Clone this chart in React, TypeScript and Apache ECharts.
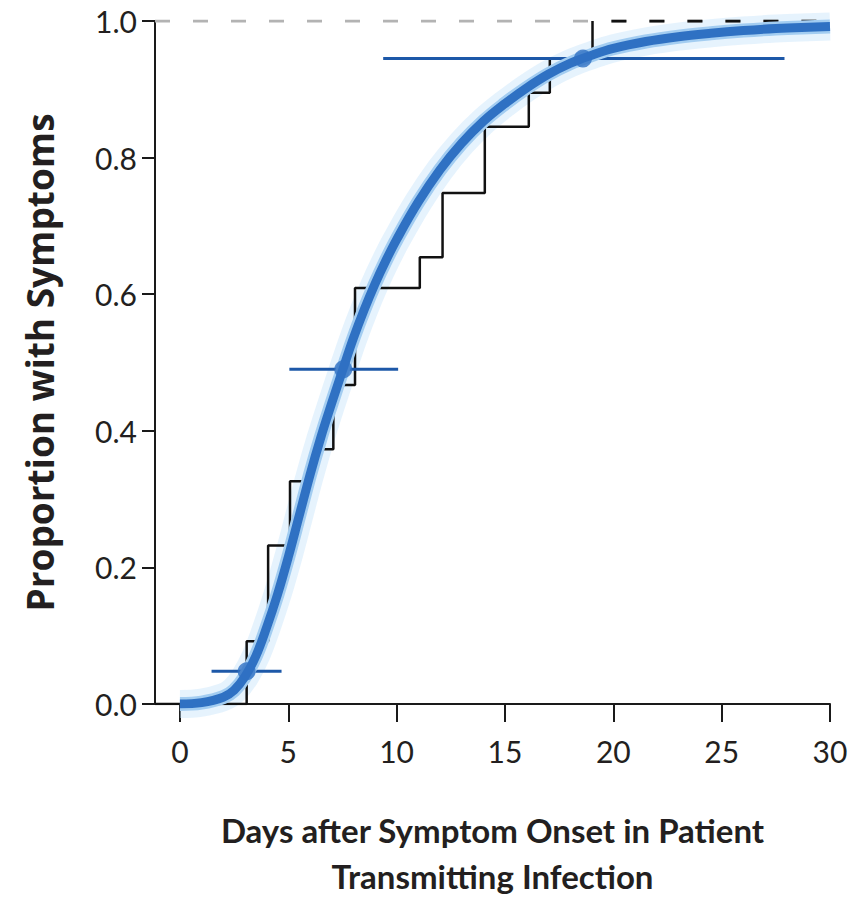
import React, { useEffect, useRef } from "react";
import * as echarts from "echarts";

// ---- Data ----
const xTicks = [0, 5, 10, 15, 20, 25, 30];
const yTicks = [0, 0.2, 0.4, 0.6, 0.8, 1.0];

// Empirical step function (day of jump, level after jump)
const stepDays = [-1.15, 3.08, 4.07, 5.08, 6.08, 7.08, 8.08, 11.07, 12.12, 14.07, 16.1, 17.07, 19.04];
const stepLevels = [0, 0.092, 0.232, 0.326, 0.373, 0.467, 0.609, 0.654, 0.748, 0.845, 0.895, 0.945, 1.0];

// Fitted smooth curve
const curveDays = [0, 1, 2, 2.5, 3, 3.5, 4, 4.5, 5, 5.5, 6, 6.5, 7, 7.5, 8, 8.5, 9, 9.5, 10, 11, 12, 13, 14, 15, 16, 17, 18, 19, 20, 21.5, 23, 24.5, 26, 27.5, 29, 30];
const curveValues = [0, 0.002, 0.01, 0.02, 0.04, 0.07, 0.112, 0.16, 0.215, 0.275, 0.335, 0.39, 0.44, 0.488, 0.535, 0.577, 0.615, 0.649, 0.68, 0.735, 0.782, 0.821, 0.853, 0.879, 0.902, 0.922, 0.938, 0.95, 0.96, 0.97, 0.977, 0.982, 0.986, 0.989, 0.991, 0.992];

// Percentile estimates with intervals (5th, 50th, 95th)
const pctLevels = [0.048, 0.49, 0.945];
const pctEstimates = [3.08, 7.54, 18.6];
const pctLower = [1.46, 5.05, 9.38];
const pctUpper = [4.69, 10.07, 27.9];

const xMin = -1.15;
const xMax = 30;
const completeFrom = 19.04;

export default function App() {
  const ref = useRef<HTMLDivElement>(null);

  useEffect(() => {
    if (!ref.current) return;
    const chart = echarts.init(ref.current, null, { renderer: "svg" });

    const curve = curveDays.map((d, i) => [d, curveValues[i]]);
    const steps = stepDays.map((d, i) => [d, stepLevels[i]]);

    const ciSeries = pctLevels.map((lvl, i) => ({
      type: "line",
      data: [
        [pctLower[i], lvl],
        [pctUpper[i], lvl],
      ],
      showSymbol: false,
      silent: true,
      lineStyle: { color: "#1d58a8", width: 3 },
      z: 4,
    }));

    const curveLine = (color: string, width: number, z: number) => ({
      type: "line",
      data: curve,
      smooth: 0.4,
      showSymbol: false,
      silent: true,
      lineStyle: { color, width, cap: "butt", join: "round" },
      z,
    });

    const option: any = {
      animation: false,
      backgroundColor: "#ffffff",
      grid: { left: 155, right: 34, top: 21, bottom: 200 },
      xAxis: {
        type: "value",
        min: xMin,
        max: xMax,
        axisLine: { show: true, onZero: false, lineStyle: { color: "#1a1a1a", width: 2 } },
        axisTick: { show: true, length: 18, customValues: xTicks, lineStyle: { color: "#1a1a1a", width: 2 } },
        axisLabel: {
          customValues: xTicks,
          fontFamily: "Lato",
          fontSize: 30,
          color: "#231f20",
          margin: 32,
        },
        splitLine: { show: false },
        name: "Days after Symptom Onset in Patient\nTransmitting Infection",
        nameLocation: "middle",
        nameGap: 103,
        nameTextStyle: {
          fontFamily: "Lato",
          fontWeight: "bold",
          fontSize: 33,
          lineHeight: 46,
          color: "#231f20",
        },
      },
      yAxis: {
        type: "value",
        min: 0,
        max: 1,
        interval: 0.2,
        axisLine: { show: true, onZero: false, lineStyle: { color: "#1a1a1a", width: 2 } },
        axisTick: { show: true, length: 13, customValues: yTicks, lineStyle: { color: "#1a1a1a", width: 2 } },
        axisLabel: {
          customValues: yTicks,
          formatter: (v: number) => v.toFixed(1),
          fontFamily: "Lato",
          fontSize: 30,
          color: "#231f20",
          margin: 18,
        },
        splitLine: { show: false },
        name: "Proportion with Symptoms",
        nameLocation: "middle",
        nameGap: 97,
        nameTextStyle: {
          fontFamily: "Open Sans",
          fontWeight: "bold",
          fontSize: 37,
          color: "#231f20",
        },
      },
      series: [
        curveLine("rgba(200,228,250,0.45)", 28, 1),
        {
          type: "line",
          data: [
            [xMin, 1],
            [xMax, 1],
          ],
          showSymbol: false,
          silent: true,
          lineStyle: { color: "#b3b3b3", width: 3, type: [15, 23] },
          z: 2,
        },
        {
          type: "line",
          data: [
            [completeFrom, 1],
            [xMax, 1],
          ],
          showSymbol: false,
          silent: true,
          lineStyle: { color: "#111111", width: 3, type: [15, 23], dashOffset: 19 },
          z: 2,
        },
        {
          type: "line",
          step: "end",
          data: steps,
          showSymbol: false,
          silent: true,
          lineStyle: { color: "#111111", width: 2.5 },
          z: 3,
        },
        ...ciSeries,
        curveLine("#a3cdf1", 14, 5),
        curveLine("#2f71c3", 9, 6),
        {
          type: "scatter",
          data: pctEstimates.map((d, i) => [d, pctLevels[i]]),
          symbolSize: 18,
          silent: true,
          itemStyle: { color: "#2f71c3" },
          z: 7,
        },
      ],
    };

    chart.setOption(option);
    return () => chart.dispose();
  }, []);

  return (
    <div
      ref={ref}
      style={{ position: "fixed", left: 0, top: 0, width: 864, height: 904, background: "#fff" }}
    />
  );
}
